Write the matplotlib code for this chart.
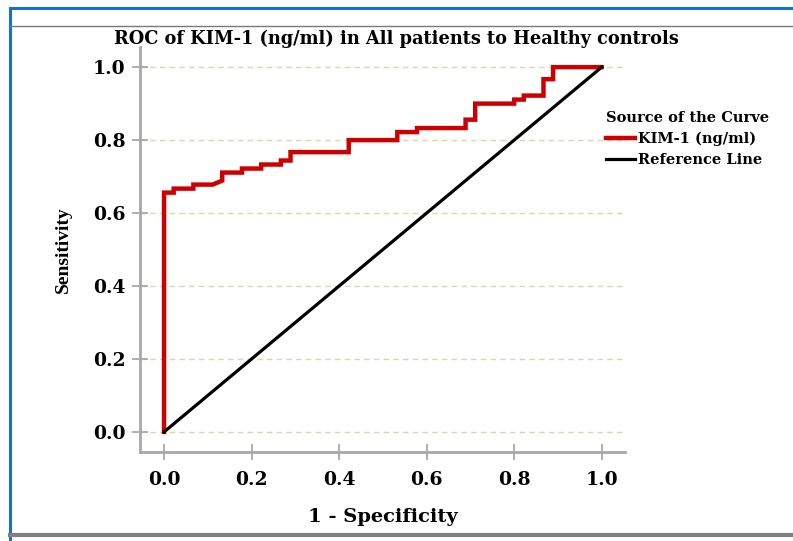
import matplotlib.pyplot as plt
from matplotlib.lines import Line2D

# ROC curve vertices (1 - specificity, sensitivity)
fpr = [0.0, 0.0, 0.022, 0.022, 0.067, 0.067, 0.111, 0.133, 0.133, 0.178, 0.178,
       0.222, 0.222, 0.267, 0.267, 0.289, 0.289, 0.422, 0.422, 0.533, 0.533,
       0.578, 0.578, 0.689, 0.689, 0.711, 0.711, 0.800, 0.800, 0.822, 0.822,
       0.867, 0.867, 0.889, 0.889, 1.0]
tpr = [0.0, 0.656, 0.656, 0.667, 0.667, 0.678, 0.678, 0.689, 0.711, 0.711, 0.722,
       0.722, 0.733, 0.733, 0.744, 0.744, 0.767, 0.767, 0.800, 0.800, 0.822,
       0.822, 0.833, 0.833, 0.856, 0.856, 0.900, 0.900, 0.911, 0.911, 0.922,
       0.922, 0.967, 0.967, 1.0, 1.0]
ref_x = [0.0, 1.0]
ref_y = [0.0, 1.0]
ticks = [0.0, 0.2, 0.4, 0.6, 0.8, 1.0]
tick_labels = ['0.0', '0.2', '0.4', '0.6', '0.8', '1.0']

plt.rcParams['font.family'] = ['DejaVu Serif']
plt.rcParams['font.weight'] = 'bold'

fig = plt.figure(figsize=(7.93, 5.41), dpi=100)

# outer frame of the output window
fig.add_artist(Line2D([0.012, 0.012], [0.0, 0.986], color='#1a72c6', lw=2.2))
fig.add_artist(Line2D([0.012, 1.0], [0.986, 0.986], color='#1a72c6', lw=2.2))
fig.add_artist(Line2D([0.012, 1.0], [0.952, 0.952], color='#7a7a7a', lw=1.0))
fig.add_artist(Line2D([0.012, 1.0], [0.011, 0.011], color='#808080', lw=3))

ax = fig.add_axes([0.1765, 0.1645, 0.6115, 0.7485])
ax.set_xlim(-0.055, 1.053)
ax.set_ylim(-0.055, 1.055)

for t in ticks:
    ax.axhline(t, color='#dcd6a8', lw=1, ls=(0, (4, 3)), zorder=0)

ax.plot(fpr, tpr, color='#cc0000', lw=3.2, label='KIM-1 (ng/ml)', solid_joinstyle='miter')
ax.plot(ref_x, ref_y, color='black', lw=2.3, label='Reference Line')

ax.set_xticks(ticks)
ax.set_xticklabels(tick_labels)
ax.set_yticks(ticks)
ax.set_yticklabels(tick_labels)
ax.tick_params(direction='inout', length=11, width=1.3, color='#a8a8a8',
               labelsize=13.5)
ax.tick_params(axis='x', pad=8)
ax.tick_params(axis='y', pad=5)
for s in ['top', 'right']:
    ax.spines[s].set_visible(False)
for s in ['left', 'bottom']:
    ax.spines[s].set_color('#a8a8a8')
    ax.spines[s].set_linewidth(2)

ax.set_xlabel('1 - Specificity', fontsize=14, fontweight='bold', labelpad=14)
ax.set_ylabel('Sensitivity', fontsize=14, fontweight='bold', labelpad=15,
              family=['Liberation Serif', 'DejaVu Serif'])
fig.text(0.5, 0.9187, 'ROC of KIM-1 (ng/ml) in All patients to Healthy controls',
         ha='center', va='baseline', fontsize=12.8, fontweight='bold')

leg = ax.legend(loc='upper left', bbox_to_anchor=(0.757, 0.805),
                bbox_transform=fig.transFigure, frameon=False,
                title='Source of the Curve', fontsize=10.5, title_fontsize=10.5,
                handlelength=2.0, handletextpad=0.2, labelspacing=0.45,
                borderaxespad=0)
leg.get_title().set_fontweight('bold')
leg._legend_box.align = 'left'

fig.savefig('out.png', dpi=100)
